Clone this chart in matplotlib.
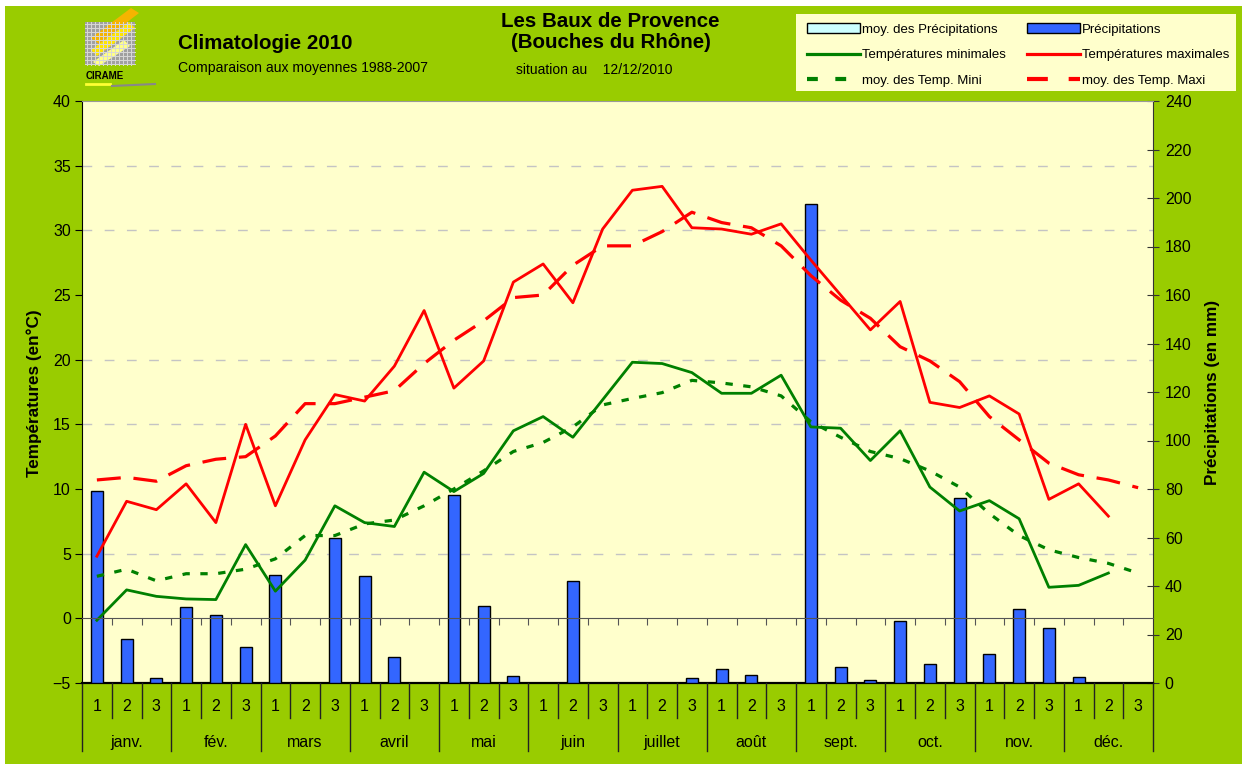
import numpy as np
import matplotlib
matplotlib.use('Agg')
from matplotlib import pyplot as plt
from matplotlib.patches import Rectangle, Polygon, Patch
from matplotlib.lines import Line2D
from matplotlib.ticker import FixedLocator

plt.rcParams['font.family'] = ['Liberation Sans', 'DejaVu Sans']

months = ['janv.', 'fév.', 'mars', 'avril', 'mai', 'juin', 'juillet', 'août',
          'sept.', 'oct.', 'nov.', 'déc.']
decades = ['1', '2', '3']

# precipitations par décade (mm)
precip = [79, 18, 2.2, 31.5, 28, 14.7, 44.5, 0, 60,
          44, 10.6, 0, 77.4, 31.6, 3, 0, 42, 0,
          0, 0, 2.2, 5.6, 3.2, 0, 197.5, 6.6, 1.2,
          25.7, 7.7, 76.2, 12.1, 30.5, 22.7, 2.6, 0, 0]

t_max = [4.8, 9.05, 8.4, 10.4, 7.4, 15.0, 8.7, 13.8, 17.3,
         16.8, 19.5, 23.8, 17.8, 19.9, 26.0, 27.4, 24.4, 30.1,
         33.1, 33.4, 30.2, 30.1, 29.7, 30.5, 27.7, 25.0, 22.3,
         24.5, 16.7, 16.3, 17.2, 15.8, 9.2, 10.4, 7.9, np.nan]
t_min = [-0.15, 2.2, 1.7, 1.5, 1.45, 5.7, 2.1, 4.5, 8.7,
         7.4, 7.1, 11.3, 9.8, 11.2, 14.5, 15.6, 14.0, 16.9,
         19.8, 19.7, 19.0, 17.4, 17.4, 18.8, 14.8, 14.7, 12.2,
         14.5, 10.15, 8.3, 9.1, 7.7, 2.4, 2.55, 3.5, np.nan]
t_max_moy = [10.7, 10.9, 10.6, 11.8, 12.3, 12.5, 14.1, 16.6, 16.6,
             17.1, 17.6, 19.7, 21.5, 23.0, 24.8, 25.0, 27.3, 28.8,
             28.8, 29.9, 31.4, 30.6, 30.2, 28.8, 26.5, 24.6, 23.2,
             21.0, 19.9, 18.3, 15.6, 13.8, 12.0, 11.1, 10.7, 10.1]
t_min_moy = [3.25, 3.8, 2.9, 3.45, 3.45, 3.8, 4.6, 6.4, 6.4,
             7.3, 7.6, 8.7, 10.0, 11.4, 12.9, 13.6, 14.8, 16.5,
             17.0, 17.45, 18.4, 18.2, 17.9, 17.2, 15.2, 14.0, 12.9,
             12.35, 11.4, 10.15, 8.1, 6.4, 5.3, 4.7, 4.25, 3.5]

temp_ticks = list(range(-5, 41, 5))
precip_ticks = list(range(0, 241, 20))

W, H = 1242, 764


def fx(px):
    return px / W


def fy(py):
    return 1 - py / H


fig = plt.figure(figsize=(W / 100, H / 100), dpi=100, facecolor='white')
fig.add_artist(Rectangle((fx(5), 0), 1, fy(6), transform=fig.transFigure,
                         facecolor='#99CC00', edgecolor='none', zorder=0))

rect = [fx(82), fy(683), fx(1153) - fx(82), fy(101) - fy(683)]
x = np.arange(36)

# axe des precipitations (droite), dessous
ax_p = fig.add_axes(rect)
ax_p.set_facecolor('#FFFFCC')
ax_p.bar(x, precip, width=0.4, color='#3366FF', edgecolor='black', lw=1, zorder=3)
ax_p.set_xlim(-0.5, 35.5)
ax_p.set_ylim(precip_ticks[0], precip_ticks[-1])
ax_p.set_yticks(precip_ticks)
ax_p.yaxis.tick_right()
ax_p.set_xticks([])
# lignes de grille aux graduations de temperature
grid_pos = [(t - temp_ticks[0]) / (temp_ticks[-1] - temp_ticks[0]) * precip_ticks[-1]
            for t in temp_ticks[2:-1]]
ax_p.yaxis.set_minor_locator(FixedLocator(grid_pos))
ax_p.grid(which='minor', axis='y', color='#C4C4C4', lw=1, ls=(0, (7, 9)), zorder=0)
ax_p.tick_params(axis='y', which='minor', length=0)
ax_p.tick_params(axis='y', which='major', direction='inout', length=9,
                 labelsize=11.5, pad=4, color='#333333')
for s in ['left', 'top']:
    ax_p.spines[s].set_visible(False)
ax_p.spines['right'].set_color('#333333')
ax_p.spines['bottom'].set_color('black')
ax_p.spines['bottom'].set_linewidth(1.6)

# axe des temperatures (gauche), dessus
ax_t = fig.add_axes(rect)
ax_t.patch.set_visible(False)
ax_t.plot(x, t_max_moy, color='#FF0000', lw=2.3, ls=(0, (7.5, 4)))
ax_t.plot(x, t_min_moy, color='#008000', lw=2.3, ls=(0, (2.3, 3.3)))
ax_t.plot(x, t_max, color='#FF0000', lw=2.0)
ax_t.plot(x, t_min, color='#008000', lw=2.0)
ax_t.set_xlim(-0.5, 35.5)
ax_t.set_ylim(temp_ticks[0], temp_ticks[-1])
ax_t.set_yticks(temp_ticks)
ax_t.set_xticks(np.arange(0.5, 35, 1))
ax_t.tick_params(axis='x', direction='out', length=5, labelbottom=False, color='#555555')
ax_t.tick_params(axis='y', direction='out', length=5, labelsize=11.5, pad=3)
ax_t.spines['right'].set_visible(False)
ax_t.spines['bottom'].set_position(('data', 0))
ax_t.spines['bottom'].set_color('#555555')
ax_t.spines['top'].set_color('#999999')
ax_t.spines['left'].set_color('black')

# axe des categories sous le graphique
xtrans = ax_t.get_xaxis_transform()
for i in x:
    ax_t.text(i, -0.041, decades[i % 3], transform=xtrans, ha='center', va='center',
              fontsize=11.5)
for m, name in enumerate(months):
    ax_t.text(3 * m + 1, -0.103, name, transform=xtrans, ha='center', va='center',
              fontsize=11.5)
for b in np.arange(-0.5, 36, 1):
    deep = (b + 0.5) % 3 == 0
    ax_t.plot([b, b], [0, -0.117 if deep else -0.060], transform=xtrans,
              color='#222222', lw=1, clip_on=False)

# titres
fig.text(fx(178), fy(49), 'Climatologie 2010', fontsize=14.8, fontweight='bold')
fig.text(fx(178), fy(72), 'Comparaison aux moyennes 1988-2007', fontsize=10.1)
fig.text(fx(610), fy(27), 'Les Baux de Provence', fontsize=14.8, fontweight='bold',
         ha='center')
fig.text(fx(611), fy(48), '(Bouches du Rhône)', fontsize=14.8, fontweight='bold',
         ha='center')
fig.text(fx(516), fy(74), 'situation au    12/12/2010', fontsize=10)
fig.text(fx(34), fy(393), 'Températures (en°C)', rotation=90, ha='center',
         va='center', fontsize=12.3, fontweight='bold')
fig.text(fx(1213), fy(392), 'Précipitations (en mm)', rotation=90, ha='center',
         va='center', fontsize=12.3, fontweight='bold')

# legende : deux colonnes placees separement
fig.add_artist(Rectangle((fx(796), fy(91)), fx(1236) - fx(796), fy(14) - fy(91),
                         transform=fig.transFigure, facecolor='#FFFFCC',
                         edgecolor='none', zorder=1))
col1 = [
    (Patch(facecolor='#CCFFFF', edgecolor='black', lw=1), 'moy. des Précipitations'),
    (Line2D([], [], color='#008000', lw=2.3), 'Températures minimales'),
    (Line2D([], [], color='#008000', lw=3, ls=(0, (2.6, 4.2))), 'moy. des Temp. Mini'),
]
col2 = [
    (Patch(facecolor='#3366FF', edgecolor='black', lw=1), 'Précipitations'),
    (Line2D([], [], color='#FF0000', lw=2.3), 'Températures maximales'),
    (Line2D([], [], color='#FF0000', lw=3, ls=(0, (5, 5))), 'moy. des Temp. Maxi'),
]
for items, left in [(col1, 807), (col2, 1027)]:
    leg = fig.legend([h for h, _ in items], [l for _, l in items], loc='upper left',
                     bbox_to_anchor=(fx(left), fy(23)), frameon=False, fontsize=9.5,
                     handlelength=4.0, handleheight=0.8, handletextpad=0.15,
                     labelspacing=1.0, borderpad=0, borderaxespad=0)
    leg.set_zorder(2)

# logo
ax_l = fig.add_axes([fx(84), fy(95), fx(160) - fx(84), fy(5) - fy(95)])
ax_l.set_xlim(84, 160)
ax_l.set_ylim(95, 5)
ax_l.axis('off')
ax_l.add_patch(Rectangle((85, 22), 50, 43, facecolor='#A0A0A0', edgecolor='none'))
for g in range(87, 135, 4):
    ax_l.plot([g, g], [22, 65], color='#D8D8D8', lw=0.7)
for g in range(24, 65, 4):
    ax_l.plot([85, 135], [g, g], color='#D8D8D8', lw=0.7)
ax_l.add_patch(Polygon([(91, 38), (131, 8), (139, 13), (99, 44)], facecolor='#F5B400'))
ax_l.add_patch(Polygon([(91, 50), (129, 22), (135, 28), (97, 56)], facecolor='#FFE600'))
ax_l.add_patch(Polygon([(93, 62), (124, 40), (130, 46), (99, 66)], facecolor='#FFFF88'))
ax_l.text(86, 76, 'CIRAME', fontsize=7, fontweight='bold', va='center')
ax_l.plot([86, 110], [84, 84], color='#FFFF33', lw=2)
ax_l.plot([112, 155], [86, 84], color='#888888', lw=1.5)

fig.savefig('out.png', dpi=100, facecolor='white')
